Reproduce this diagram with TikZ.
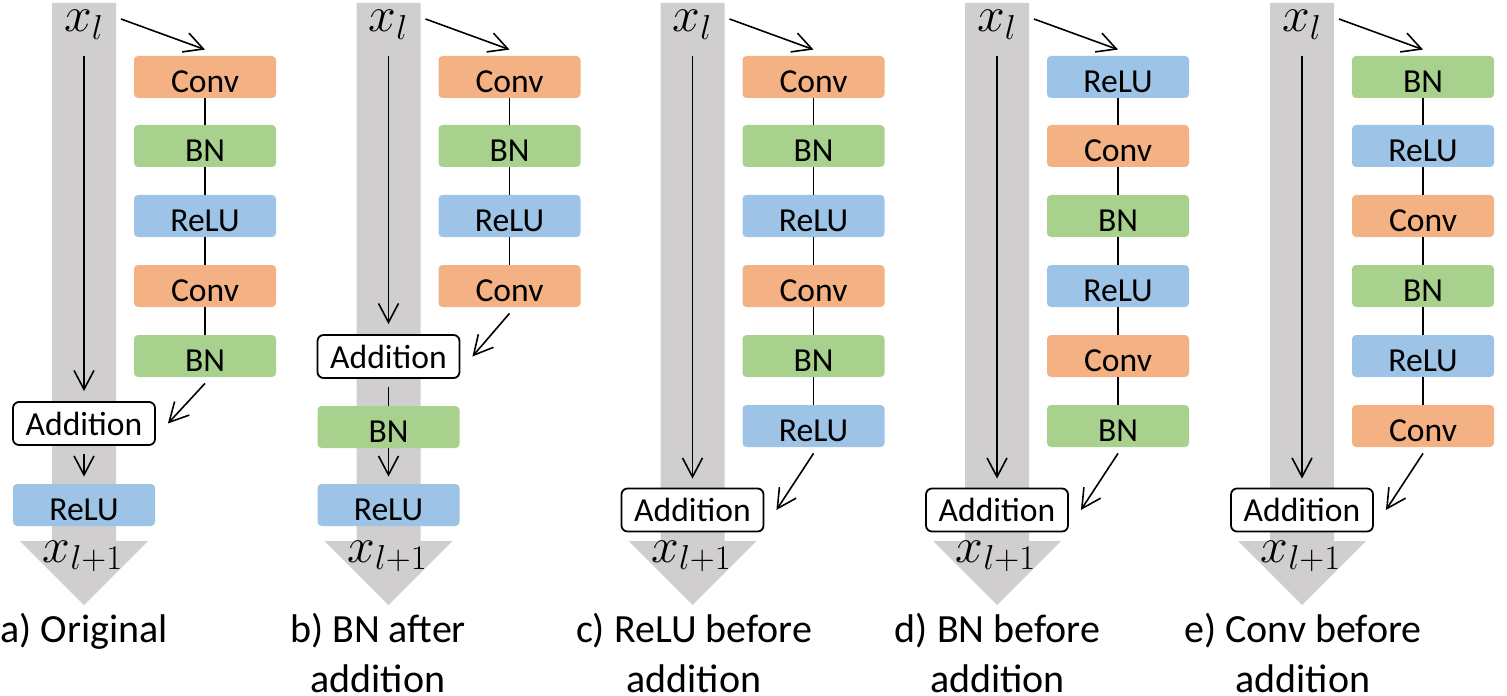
\documentclass[tikz,border=0pt]{standalone}
\usepackage[no-math]{fontspec}
\setmainfont{Carlito}
\usetikzlibrary{arrows.meta}

\definecolor{convcol}{HTML}{F4B183}
\definecolor{bncol}{HTML}{A9D18E}
\definecolor{relucol}{HTML}{9DC3E6}
\definecolor{pathcol}{HTML}{D0CECE}

\newcommand{\boxfont}{\fontsize{16.8}{18}\selectfont}
\newcommand{\capfont}{\fontsize{20}{25}\selectfont}
\newcommand{\tensorfont}{\fontsize{23}{23}\selectfont}

% grey identity path with its arrow head, centred at x = #1
\newcommand{\skippath}[1]{%
  \fill[pathcol] (#1-32,3) -- (#1+32,3) -- (#1+32,541) -- (#1+64,541)
    -- (#1,605) -- (#1-64,541) -- (#1-32,541) -- cycle;}

\tikzset{
  layer/.style={rounded corners=2pt, minimum width=71pt, minimum height=21pt,
    inner sep=0pt, font=\boxfont, text height=15.5pt, text depth=0pt},
  conv/.style={layer, fill=convcol},
  bn/.style={layer, fill=bncol},
  relu/.style={layer, fill=relucol},
  addition/.style={layer, draw=black, line width=0.9pt, rounded corners=3pt,
    fill=white, minimum height=21.5pt, text height=, text depth=},
  flow/.style={-{Straight Barb[length=9.5pt,width=10pt]}, line width=0.8pt},
  link/.style={line width=0.8pt},
  tensor/.style={font=\tensorfont, anchor=base, inner sep=0pt},
  caption/.style={font=\capfont, align=center, anchor=north, inner sep=0pt},
}

\begin{document}
\begin{tikzpicture}[x=0.5pt, y=-0.5pt]
    \useasboundingbox (0,0) rectangle (1507,695);

    % a) Original
    \skippath{84}
    \node[tensor] (axl) at (84,32) {$x_l$};
    \node[conv] (a1) at (205,77) {Conv};
    \node[bn] (a2) at (205,146) {BN};
    \node[relu] (a3) at (205,216) {ReLU};
    \node[conv] (a4) at (205,286) {Conv};
    \node[bn] (a5) at (205,356) {BN};
    \node[addition] (aadd) at (84,423.5) {Addition};
    \node[relu] (aout) at (84,505) {ReLU};
    \node[tensor] (axo) at (83,562) {$x_{l+1}$};
    \node[caption] (acap) at (84,613) {a) Original};
    \coordinate (ain) at (121,19);
    \coordinate (atop) at (84,56);

    \draw[flow] (ain) -- ([yshift=3pt]a1.north);
    \draw[flow] (atop) -- ([yshift=5pt]aadd.north);
    \draw[link] (a1) -- (a2) (a2) -- (a3) (a3) -- (a4) (a4) -- (a5);
    \draw[flow] ([yshift=-3pt]a5.south) -- ([xshift=6pt]aadd.east);
    \draw[flow, shorten <=4pt, shorten >=3.5pt] (aadd) -- (aout);

    % b) BN after addition
    \skippath{388.5}
    \node[tensor] (bxl) at (388.5,32) {$x_l$};
    \node[conv] (b1) at (509.5,77) {Conv};
    \node[bn] (b2) at (509.5,146) {BN};
    \node[relu] (b3) at (509.5,216) {ReLU};
    \node[conv] (b4) at (509.5,286) {Conv};
    \node[addition] (badd) at (388.5,356.5) {Addition};
    \node[bn] (bbn) at (388.5,427) {BN};
    \node[relu] (bout) at (388.5,505) {ReLU};
    \node[tensor] (bxo) at (387.5,562) {$x_{l+1}$};
    \node[caption] (bcap) at (378,613) {b) BN after\\addition};
    \coordinate (bin) at (425.5,19);
    \coordinate (btop) at (388.5,56);

    \draw[flow] (bin) -- ([yshift=3pt]b1.north);
    \draw[flow] (btop) -- ([yshift=5pt]badd.north);
    \draw[link] (b1) -- (b2) (b2) -- (b3) (b3) -- (b4);
    \draw[flow] ([yshift=-3pt]b4.south) -- ([xshift=6pt]badd.east);
    \draw[link, shorten <=4pt] (badd) -- (bbn);
    \draw[flow, shorten >=3.5pt] (bbn) -- (bout);

    % c) ReLU before addition
    \skippath{692.5}
    \node[tensor] (cxl) at (692.5,32) {$x_l$};
    \node[conv] (c1) at (813.5,77) {Conv};
    \node[bn] (c2) at (813.5,146) {BN};
    \node[relu] (c3) at (813.5,216) {ReLU};
    \node[conv] (c4) at (813.5,286) {Conv};
    \node[bn] (c5) at (813.5,356) {BN};
    \node[relu] (c6) at (813.5,426) {ReLU};
    \node[addition] (cadd) at (692.5,510) {Addition};
    \node[tensor] (cxo) at (691.5,562) {$x_{l+1}$};
    \node[caption] (ccap) at (694,613) {c) ReLU before\\addition};
    \coordinate (cin) at (729.5,19);
    \coordinate (ctop) at (692.5,56);

    \draw[flow] (cin) -- ([yshift=3pt]c1.north);
    \draw[flow] (ctop) -- ([yshift=4.5pt]cadd.north);
    \draw[link] (c1) -- (c2) (c2) -- (c3) (c3) -- (c4) (c4) -- (c5) (c5) -- (c6);
    \draw[flow] ([yshift=-3pt]c6.south) -- ([xshift=6pt]cadd.east);

    % d) BN before addition
    \skippath{997}
    \node[tensor] (dxl) at (997,32) {$x_l$};
    \node[relu] (d1) at (1118,77) {ReLU};
    \node[conv] (d2) at (1118,146) {Conv};
    \node[bn] (d3) at (1118,216) {BN};
    \node[relu] (d4) at (1118,286) {ReLU};
    \node[conv] (d5) at (1118,356) {Conv};
    \node[bn] (d6) at (1118,426) {BN};
    \node[addition] (dadd) at (997,510) {Addition};
    \node[tensor] (dxo) at (996,562) {$x_{l+1}$};
    \node[caption] (dcap) at (997.5,613) {d) BN before\\addition};
    \coordinate (din) at (1034,19);
    \coordinate (dtop) at (997,56);

    \draw[flow] (din) -- ([yshift=3pt]d1.north);
    \draw[flow] (dtop) -- ([yshift=4.5pt]dadd.north);
    \draw[link] (d1) -- (d2) (d2) -- (d3) (d3) -- (d4) (d4) -- (d5) (d5) -- (d6);
    \draw[flow] ([yshift=-3pt]d6.south) -- ([xshift=6pt]dadd.east);

    % e) Conv before addition
    \skippath{1302}
    \node[tensor] (exl) at (1302,32) {$x_l$};
    \node[bn] (e1) at (1423,77) {BN};
    \node[relu] (e2) at (1423,146) {ReLU};
    \node[conv] (e3) at (1423,216) {Conv};
    \node[bn] (e4) at (1423,286) {BN};
    \node[relu] (e5) at (1423,356) {ReLU};
    \node[conv] (e6) at (1423,426) {Conv};
    \node[addition] (eadd) at (1302,510) {Addition};
    \node[tensor] (exo) at (1301,562) {$x_{l+1}$};
    \node[caption] (ecap) at (1303,613) {e) Conv before\\addition};
    \coordinate (ein) at (1339,19);
    \coordinate (etop) at (1302,56);

    \draw[flow] (ein) -- ([yshift=3pt]e1.north);
    \draw[flow] (etop) -- ([yshift=4.5pt]eadd.north);
    \draw[link] (e1) -- (e2) (e2) -- (e3) (e3) -- (e4) (e4) -- (e5) (e5) -- (e6);
    \draw[flow] ([yshift=-3pt]e6.south) -- ([xshift=6pt]eadd.east);
\end{tikzpicture}
\end{document}
